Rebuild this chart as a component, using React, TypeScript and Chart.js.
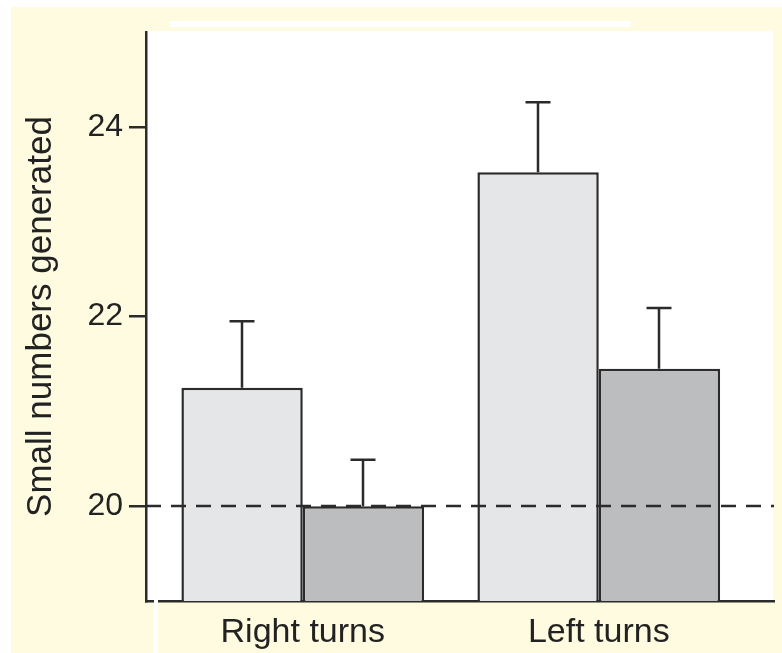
import React, { useEffect, useRef } from "react";
import { Chart, registerables } from "chart.js";

Chart.register(...registerables);

const categories = ["Right turns", "Left turns"];
const lightValues = [21.25, 23.52];
const darkValues = [20.0, 21.45];
const lightErrors = [0.7, 0.74];
const darkErrors = [0.49, 0.64];
const yTicks = [20, 22, 24];
const yTitle = "Small numbers generated";
const referenceLine = 20;

const FONT = "'Liberation Sans', Arial, sans-serif";
const INK = "#2b2b2b";

export default function App() {
  const ref = useRef<HTMLCanvasElement | null>(null);

  useEffect(() => {
    document.body.style.margin = "0";
    const canvas = ref.current;
    if (!canvas) return;

    const bgPlugin = {
      id: "bg",
      beforeDraw(chart: any) {
        const ctx = chart.ctx;
        ctx.save();
        ctx.fillStyle = "#ffffff";
        ctx.fillRect(0, 0, chart.width, chart.height);
        ctx.fillStyle = "#fffbe1";
        ctx.fillRect(11, 7, chart.width - 11, chart.height - 7);
        ctx.fillStyle = "#ffffff";
        ctx.fillRect(170, 21, 461, 6);
        const a = chart.chartArea;
        ctx.fillRect(a.left, a.top - 1, a.right - a.left - 1, a.bottom - a.top + 1);
        ctx.restore();
      },
      afterDatasetsDraw(chart: any) {
        const ctx = chart.ctx;
        const y = chart.scales.y;
        const a = chart.chartArea;
        ctx.save();
        ctx.strokeStyle = INK;
        ctx.lineWidth = 2.5;
        ctx.setLineDash([15, 10]);
        const yr = Math.round(y.getPixelForValue(referenceLine));
        ctx.beginPath();
        ctx.moveTo(a.left, yr);
        ctx.lineTo(a.right, yr);
        ctx.stroke();
        ctx.setLineDash([]);
        const errs = [lightErrors, darkErrors];
        const vals = [lightValues, darkValues];
        for (let d = 0; d < 2; d++) {
          const meta = chart.getDatasetMeta(d);
          meta.data.forEach((el: any, j: number) => {
            const x = Math.round(el.x);
            const top = y.getPixelForValue(vals[d][j] + errs[d][j]);
            const base = el.y;
            ctx.beginPath();
            ctx.moveTo(x, base);
            ctx.lineTo(x, top);
            ctx.moveTo(x - 12.5, top);
            ctx.lineTo(x + 12.5, top);
            ctx.stroke();
          });
        }
        ctx.restore();
      },
      afterDraw(chart: any) {
        const ctx = chart.ctx;
        ctx.save();
        ctx.fillStyle = "#ffffff";
        ctx.fillRect(154, 599, 4, chart.height - 599);
        ctx.restore();
      },
    };

    const chart = new Chart(canvas, {
      type: "bar",
      data: {
        datasets: [
          {
            label: "light",
            data: lightValues.map((v, i) => ({ x: i, y: v })),
            backgroundColor: "#e5e6e8",
            borderColor: INK,
            borderWidth: 2.5,
            borderSkipped: "start",
          },
          {
            label: "dark",
            data: darkValues.map((v, i) => ({ x: i, y: v })),
            backgroundColor: "#bcbdbf",
            borderColor: INK,
            borderWidth: 2.5,
            borderSkipped: "start",
          },
        ],
      },
      options: {
        responsive: false,
        animation: false,
        maintainAspectRatio: false,
        categoryPercentage: 0.82,
        barPercentage: 1.0,
        layout: { padding: { top: 32, right: 8, left: 0, bottom: 0 } },
        plugins: {
          legend: { display: false },
          tooltip: { enabled: false },
        },
        scales: {
          x: {
            type: "linear",
            offset: false,
            min: -0.5296,
            max: 1.592,
            afterBuildTicks(scale: any) {
              scale.ticks = categories.map((_, i) => ({ value: i }));
            },
            afterFit(scale: any) {
              scale.height = 52;
            },
            grid: { display: false, drawTicks: false },
            border: { display: true, color: INK, width: 2.5 },
            ticks: {
              callback: (v: any) => categories[Number(v)] ?? "",
              color: "#222222",
              font: { family: FONT, size: 34 },
              padding: 11,
              maxRotation: 0,
              autoSkip: false,
            },
          },
          y: {
            type: "linear",
            min: 19,
            max: 25,
            afterBuildTicks(scale: any) {
              scale.ticks = yTicks.map((v) => ({ value: v }));
            },
            afterFit(scale: any) {
              scale.width = 146;
            },
            grid: {
              display: true,
              drawOnChartArea: false,
              drawTicks: true,
              tickLength: 17,
              color: INK,
              lineWidth: 2.5,
            },
            border: { display: true, color: INK, width: 2.5 },
            ticks: {
              color: "#222222",
              font: { family: FONT, size: 32 },
              padding: 6,
            },
            title: {
              display: true,
              text: yTitle,
              color: "#222222",
              font: { family: FONT, size: 35 },
              padding: { top: 20, bottom: 0 },
            },
          },
        },
      },
      plugins: [bgPlugin],
    } as any);

    return () => chart.destroy();
  }, []);

  return (
    <div style={{ width: 782, height: 653 }}>
      <canvas ref={ref} width={782} height={653} style={{ display: "block" }} />
    </div>
  );
}
